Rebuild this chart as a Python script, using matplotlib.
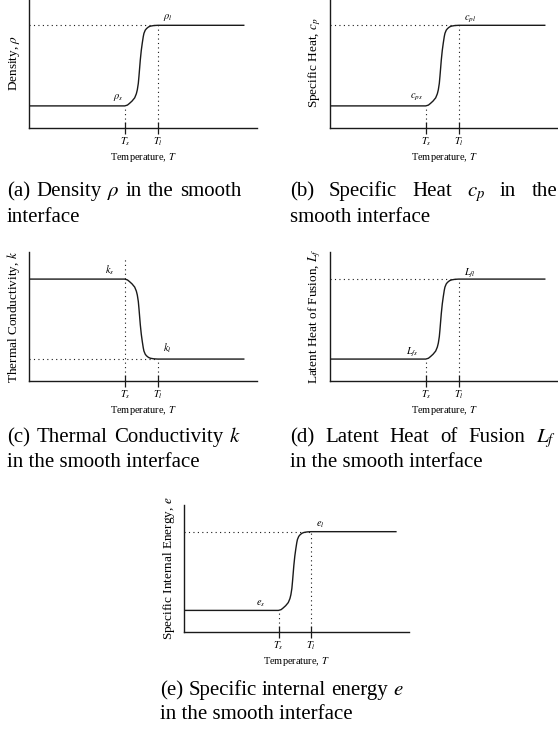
import numpy as np
import matplotlib
matplotlib.use('Agg')
import matplotlib.pyplot as plt

plt.rcParams['font.family'] = ['Liberation Serif', 'DejaVu Serif']
plt.rcParams['mathtext.fontset'] = 'stix'

W, H = 558, 736

# temperature axis (arbitrary units) and levels (fraction of axis height)
T_s = 4.2
T_l = 5.65
T_end = 9.45
level_low = 0.17
level_high = 0.79

# transition shape: fraction of the way from T_s to T_l
shape_t = [0, 0.08, 0.14, 0.22, 0.30, 0.35, 0.38, 0.41, 0.43, 0.45, 0.47, 0.50, 0.53, 0.56, 0.58, 0.62, 0.66, 0.72, 0.78, 0.88, 1.0]
shape_f = [0, 0.01, 0.03, 0.06, 0.10, 0.15, 0.20, 0.28, 0.37, 0.47, 0.57, 0.69, 0.78, 0.86, 0.90, 0.94, 0.96, 0.98, 0.99, 0.997, 1.0]

ylabels = ['Density, $\\rho$', 'Specific Heat, $c_p$', 'Thermal Conductivity, $k$',
           'Latent Heat of Fusion, $L_f$', 'Specific Internal Energy, $e$']
low_labels = ['$\\rho_s$', '$c_{ps}$', '$k_l$', '$L_{fs}$', '$e_s$']
high_labels = ['$\\rho_l$', '$c_{pl}$', '$k_s$', '$L_{fl}$', '$e_l$']
rising = [True, True, False, True, True]

captions = [
    ['(a) Density $\\rho$ in the smooth', 'interface'],
    ['(b) Specific Heat $c_p$ in the', 'smooth interface'],
    ['(c) Thermal Conductivity $k$', 'in the smooth interface'],
    ['(d) Latent Heat of Fusion $L_f$', 'in the smooth interface'],
    ['(e) Specific internal energy $e$', 'in the smooth interface'],
]

# layout in pixels: axes box (left, right, top, bottom), label offsets, caption box
boxes = [(29, 257, -2, 128), (330, 558, -2, 128), (29, 257, 252, 381),
         (330, 558, 252, 381), (184, 409, 505, 632)]
low_off = [(-1, 8), (-3, 8), (5, 11), (-7, 7), (-13, 7)]
high_off = [(5, 8), (5, 6), (-10, 9), (5, 6), (5, 7)]
cap_x = [(7, 241), (290, 557), (7, 241), (290, 556), (160, 408)]
cap_y = [196, 222, 196, 222, 442, 467, 442, 467, 695, 719]
cap_justify = [True, True, True, True, False]

fig = plt.figure(figsize=(W / 100, H / 100), dpi=100)
ink = '#1a1a1a'
small = 7.5

for i in range(5):
    l, r, t, b = boxes[i]
    ax = fig.add_axes([l / W, 1 - b / H, (r - l) / W, (b - t) / H])
    ax.set_xlim(0, 10)
    ax.set_ylim(0, 1)
    for s in ['top', 'right']:
        ax.spines[s].set_visible(False)
    for s in ['left', 'bottom']:
        ax.spines[s].set_linewidth(1.0)
        ax.spines[s].set_color(ink)
        ax.spines[s].set_clip_on(False)
    ax.set_yticks([])
    ax.set_xticks([T_s, T_l])
    ax.set_xticklabels(['$T_s$', '$T_l$'])
    ax.tick_params(axis='x', direction='inout', length=9, width=0.9, color=ink,
                   pad=1, labelsize=small)
    ax.set_xlabel('Temperature, $T$', fontsize=small, labelpad=2)
    ax.text(-15 / (r - l), 0.5, ylabels[i], rotation=90, ha='center', va='center',
            fontsize=9.5, transform=ax.transAxes)

    if rising[i]:
        y0, y1 = level_low, level_high
    else:
        y0, y1 = level_high, level_low
    xs = [0] + [T_s + (T_l - T_s) * s for s in shape_t] + [T_end]
    ys = [y0] + [y0 + (y1 - y0) * f for f in shape_f] + [y1]
    ax.plot(xs, ys, color=ink, lw=1.0, solid_capstyle='butt', clip_on=False)

    dot = dict(color=ink, lw=0.8, ls=(0, (1, 3)), clip_on=False)
    if rising[i]:
        ax.plot([0, T_l], [level_high, level_high], **dot)
        ax.plot([T_l, T_l], [0, level_high], **dot)
        ax.plot([T_s, T_s], [0, level_low], **dot)
        lo_anchor, hi_anchor = (T_s, level_low), (T_l, level_high)
    else:
        ax.plot([T_s, T_s], [0, 0.95], **dot)
        ax.plot([0, T_l], [level_low, level_low], **dot)
        ax.plot([T_l, T_l], [0, level_low], **dot)
        lo_anchor, hi_anchor = (T_l, level_low), (T_s, level_high)

    ax.annotate(low_labels[i], lo_anchor, xytext=low_off[i], textcoords='offset pixels',
                ha='right' if rising[i] else 'left', va='center', fontsize=small)
    ax.annotate(high_labels[i], hi_anchor, xytext=high_off[i], textcoords='offset pixels',
                ha='left' if rising[i] else 'right', va='center', fontsize=small)

# captions, first line justified like the typeset original
renderer = fig.canvas.get_renderer()
cap_size = 15
for i in range(5):
    x0, x1 = cap_x[i]
    ya, yb = cap_y[2 * i], cap_y[2 * i + 1]
    words = captions[i][0].split(' ')
    texts = [fig.text(0, 0, w, fontsize=cap_size, va='baseline') for w in words]
    widths = [t.get_window_extent(renderer).width for t in texts]
    if cap_justify[i]:
        gap = (x1 - x0 - sum(widths)) / (len(words) - 1)
    else:
        gap = 0.25 * cap_size * 100 / 72
    x = x0
    for t, w in zip(texts, widths):
        t.set_position((x / W, 1 - ya / H))
        x += w + gap
    fig.text(x0 / W, 1 - yb / H, captions[i][1], fontsize=cap_size, va='baseline')

fig.savefig('out.png', dpi=100)
